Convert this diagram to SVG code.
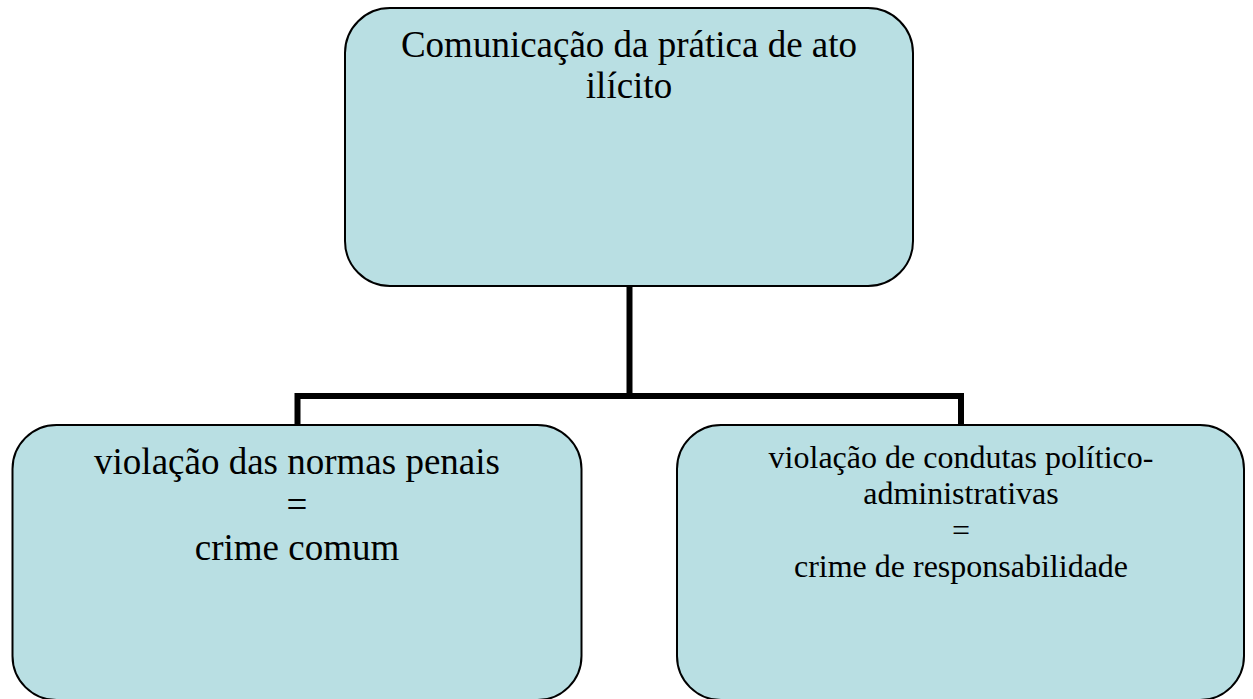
<svg xmlns="http://www.w3.org/2000/svg" width="1253" height="699" viewBox="0 0 1253 699">
<style>
.box{fill:#B9DFE3;stroke:#000;stroke-width:2}
.t{font-family:"Liberation Serif","Times New Roman",serif;fill:#000;text-anchor:middle}
.big{font-size:37px}
.small{font-size:32px}
.conn{fill:none;stroke:#000;stroke-width:6;stroke-linejoin:miter}
</style>
<rect width="1253" height="699" fill="#fff"/>
<g id="connectors">
<path class="conn" d="M629.5,286 V396"/>
<path class="conn" d="M297.5,425 V396 H961 V425"/>
</g>
<g id="node-top">
<rect class="box" x="345" y="8" width="568" height="278" rx="45" ry="45"/>
<text class="t big" x="629" y="57">Comunicação da prática de ato</text>
<text class="t big" x="629" y="98">ilícito</text>
</g>
<g id="node-left">
<rect class="box" x="12.5" y="425" width="569" height="275" rx="44" ry="44"/>
<text class="t big" x="297" y="474">violação das normas penais</text>
<text class="t big" x="297" y="517">=</text>
<text class="t big" x="297" y="560">crime comum</text>
</g>
<g id="node-right">
<rect class="box" x="677" y="425" width="567" height="275" rx="44" ry="44"/>
<text class="t small" x="961" y="468">violação de condutas político-</text>
<text class="t small" x="961" y="504">administrativas</text>
<text class="t small" x="961" y="541">=</text>
<text class="t small" x="961" y="577">crime de responsabilidade</text>
</g>
</svg>
